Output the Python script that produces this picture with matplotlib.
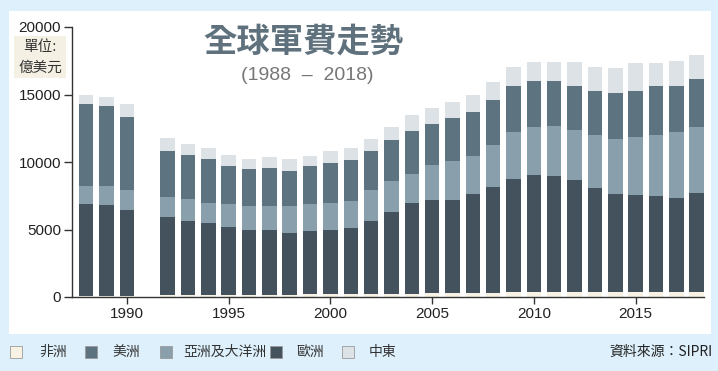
import matplotlib
matplotlib.use("Agg")
import matplotlib.pyplot as plt
from matplotlib.patches import Rectangle
import numpy as np

# 全球軍費 (單位: 億美元)
years = [1988, 1989, 1990, 1992, 1993, 1994, 1995, 1996, 1997, 1998, 1999,
         2000, 2001, 2002, 2003, 2004, 2005, 2006, 2007, 2008, 2009,
         2010, 2011, 2012, 2013, 2014, 2015, 2016, 2017, 2018]
africa = [100, 100, 100, 150, 150, 150, 150, 160, 170, 180, 190,
          200, 210, 220, 230, 250, 270, 280, 300, 320, 340,
          350, 370, 380, 390, 400, 390, 380, 370, 380]
europe = [6800, 6680, 6320, 5780, 5490, 5340, 5040, 4790, 4780, 4570, 4710,
          4800, 4890, 5420, 6040, 6680, 6930, 6920, 7340, 7860, 8410,
          8690, 8620, 8290, 7670, 7240, 7130, 7070, 6980, 7340]
asia = [1350, 1470, 1470, 1470, 1640, 1490, 1670, 1760, 1760, 1960, 1960,
        1960, 2030, 2250, 2350, 2180, 2600, 2890, 2820, 3070, 3470,
        3580, 3680, 3680, 3920, 4100, 4340, 4530, 4900, 4870]
americas = [6050, 5930, 5460, 3430, 3230, 3240, 2820, 2770, 2850, 2650, 2820,
            2960, 2990, 2890, 2990, 3190, 3040, 3140, 3260, 3330, 3430,
            3350, 3300, 3300, 3310, 3380, 3430, 3670, 3400, 3560]
mideast = [650, 620, 950, 930, 810, 810, 830, 740, 830, 860, 780,
           910, 900, 960, 990, 1150, 1170, 1230, 1220, 1340, 1350,
           1430, 1430, 1750, 1710, 1880, 2030, 1670, 1840, 1780]

names = ["非洲", "美洲", "亞洲及大洋洲", "歐洲", "中東"]
colors = {"非洲": "#f7f2e4", "美洲": "#5e7380", "亞洲及大洋洲": "#8a9fac",
          "歐洲": "#43525c", "中東": "#dde2e6"}
stack = [("非洲", africa), ("歐洲", europe), ("亞洲及大洋洲", asia),
         ("美洲", americas), ("中東", mideast)]

cjk = ["Noto Sans CJK TC", "DejaVu Sans"]
num = ["Liberation Sans", "DejaVu Sans"]

W, H = 718, 371
fig = plt.figure(figsize=(W / 100, H / 100), dpi=100)
fig.patch.set_facecolor("#ddf0fb")
fig.patches.append(Rectangle((9 / W, 1 - 334 / H), 702 / W, 323 / H,
                             transform=fig.transFigure, facecolor="white",
                             edgecolor="none", zorder=0))

ax = fig.add_axes([72 / W, 1 - 297 / H, 632 / W, 270 / H])
ax.set_facecolor("none")
ax.set_zorder(5)

bottom = np.zeros(len(years))
for name, vals in stack:
    ax.bar(years, vals, bottom=bottom, width=0.71, color=colors[name],
           edgecolor="none", zorder=2)
    bottom += np.array(vals)

ax.set_xlim(1987.3, 2018.36)
ax.set_ylim(0, 20000)
ax.set_xticks([1990, 1995, 2000, 2005, 2010, 2015])
ax.set_yticks([0, 5000, 10000, 15000, 20000])
ax.spines["top"].set_visible(False)
ax.spines["right"].set_visible(False)
for s in ["left", "bottom"]:
    ax.spines[s].set_color("#333333")
    ax.spines[s].set_linewidth(1.0)
ax.tick_params(axis="both", colors="#333333", length=6, width=1.0,
               labelsize=11, pad=2)
ax.tick_params(axis="x", length=5, pad=2)
for lab in ax.get_xticklabels() + ax.get_yticklabels():
    lab.set_family(num)
    lab.set_color("#222222")

# unit box
fig.patches.append(Rectangle((14 / W, 1 - 78 / H), 52 / W, 42 / H,
                             transform=fig.transFigure, facecolor="#f4f0e4",
                             edgecolor="none", zorder=1))
fig.text(40 / W, 1 - 47 / H, "單位:", family=cjk, fontsize=10.5,
         ha="center", va="center", color="#333333", zorder=6)
fig.text(40 / W, 1 - 68 / H, "億美元", family=cjk, fontsize=10.5,
         ha="center", va="center", color="#333333", zorder=6)

# title
fig.text(303 / W, 1 - 42 / H, "全球軍費走勢", family=cjk, fontsize=24,
         fontweight="bold", ha="center", va="center", color="#5e717c",
         zorder=6)
fig.text(307 / W, 1 - 75 / H, "(1988  –  2018)", family=num, fontsize=14,
         ha="center", va="center", color="#777777", zorder=6)

# legend along the bottom band
ly = 1 - 352 / H
items = [("非洲", 10, 39), ("美洲", 85, 112), ("亞洲及大洋洲", 160, 183),
         ("歐洲", 270, 296), ("中東", 342, 369)]
for name, sx, tx in items:
    fig.patches.append(Rectangle((sx / W, ly - 6 / H), 12 / W, 12 / H,
                                 transform=fig.transFigure,
                                 facecolor=colors[name], edgecolor="#9a9a9a",
                                 linewidth=0.6, zorder=3))
    fig.text(tx / W, ly, name, family=cjk, fontsize=10, ha="left",
             va="center", color="#333333")
fig.text(712 / W, ly, "資料來源：SIPRI", family=cjk, fontsize=10,
         ha="right", va="center", color="#222222")

fig.savefig("out.png", dpi=100, facecolor=fig.get_facecolor())
